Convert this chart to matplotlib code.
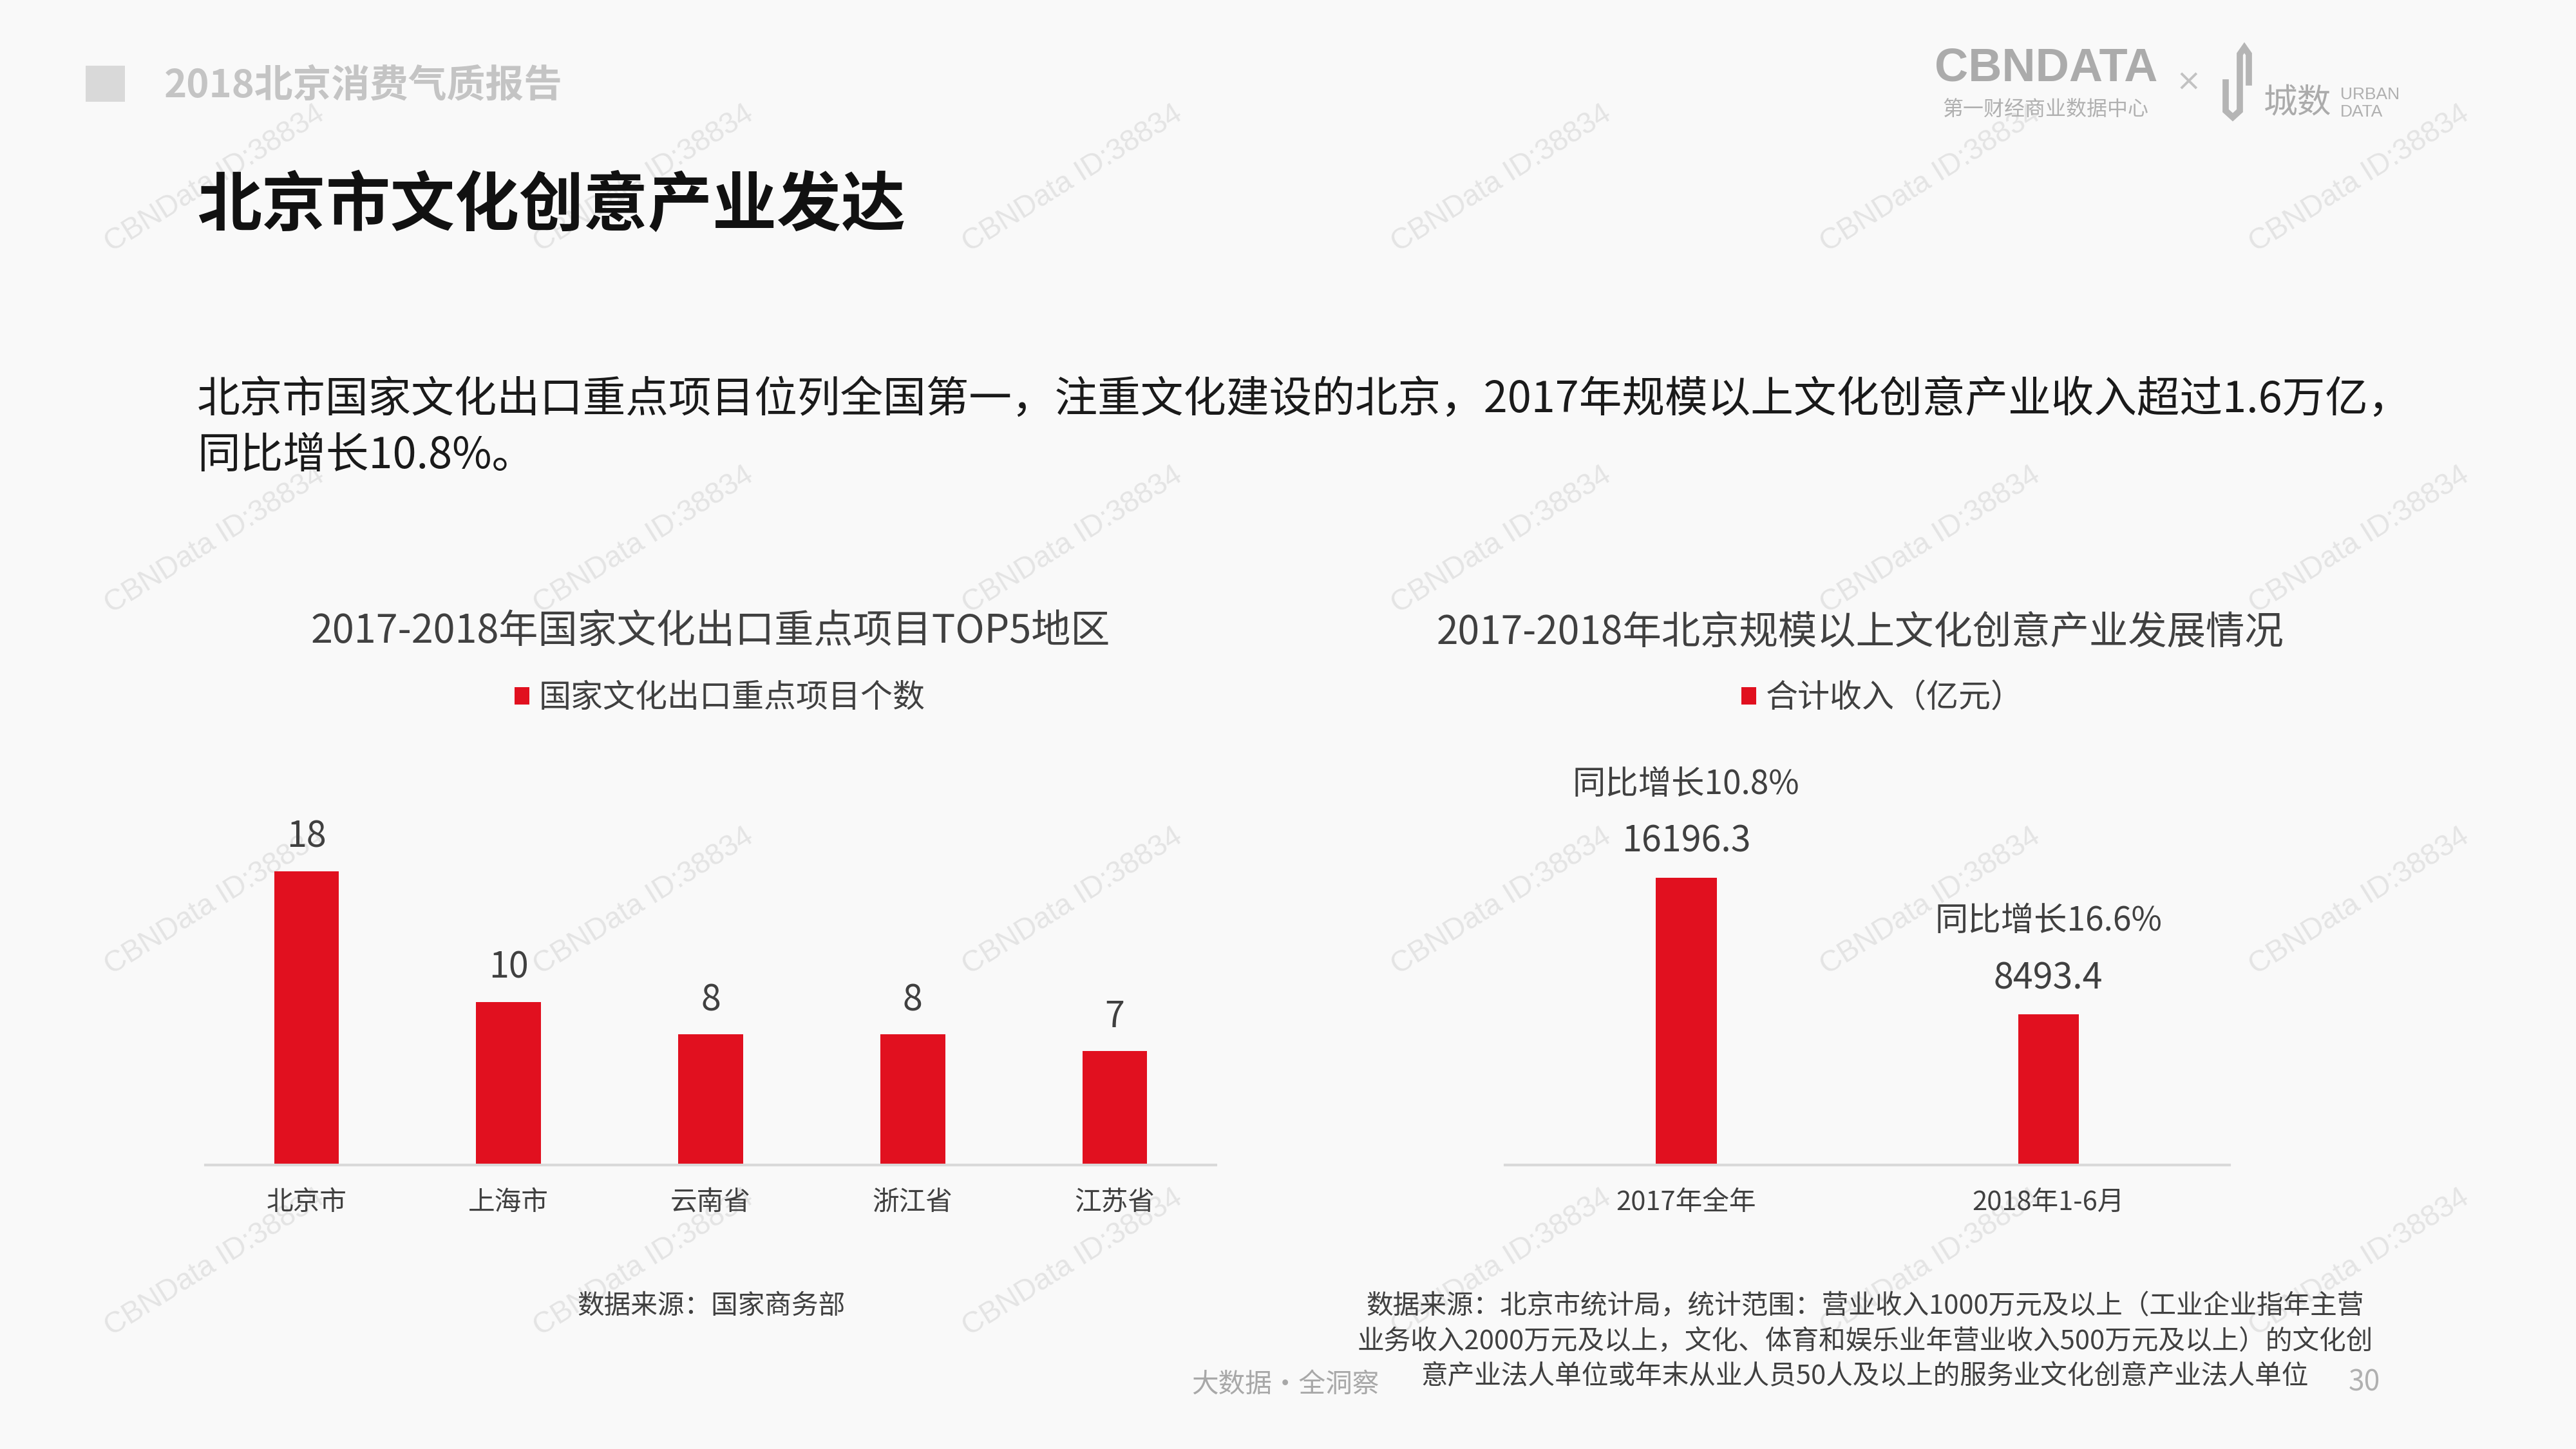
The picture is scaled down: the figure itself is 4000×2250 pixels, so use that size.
import matplotlib
matplotlib.use("Agg")
import matplotlib.pyplot as plt
from matplotlib.patches import Patch, Rectangle
from matplotlib.lines import Line2D

plt.rcParams['font.family'] = ['Noto Sans CJK SC', 'DejaVu Sans']

# data
regions = ['北京市', '上海市', '云南省', '浙江省', '江苏省']
projects = [18, 10, 8, 8, 7]
periods = ['2017年全年', '2018年1-6月']
income = [16196.3, 8493.4]
growth = ['同比增长10.8%', '同比增长16.6%']

RED = '#e1101f'
DARK = '#404040'
BG = '#f9f9f9'

W, H = 4000, 2250
fig = plt.figure(figsize=(40, 22.5), dpi=100, facecolor=BG)


def fx(x):
    return x / W


def fy(y):
    return 1 - y / H


# watermark grid
for i in range(6):
    for j in range(4):
        fig.text(fx(333 + i * 666), fy(278 + j * 561), 'CBNData ID:38834',
                 fontsize=33, color='#e4e4e4', rotation=32, ha='center', va='center',
                 family='Liberation Sans', zorder=-5)

# header
fig.patches.append(Rectangle((fx(133), fy(158)), fx(61), 56 / H, transform=fig.transFigure,
                             facecolor='#d9d9d9', edgecolor='none'))
fig.text(fx(255), fy(134), '2018北京消费气质报告', fontsize=43, fontweight='bold',
         color='#c4c4c4', va='center')

# logos
fig.text(fx(3177), fy(107), 'CBNDATA', fontsize=52, fontweight='bold', color='#ababab',
         ha='center', va='center', family='Liberation Sans')
fig.text(fx(3177), fy(171), '第一财经商业数据中心', fontsize=23, color='#b0b0b0',
         ha='center', va='center')
fig.text(fx(3398), fy(128), '×', fontsize=34, color='#c2c2c2', ha='center', va='center',
         family='DejaVu Sans')
ux = [3456, 3456, 3467, 3478, 3478, 3485, 3492, 3492]
uy = [128, 172, 182, 172, 84, 74, 84, 128]
fig.lines.append(Line2D([fx(v) for v in ux], [fy(v) for v in uy], transform=fig.transFigure,
                        color='#b5b5b5', lw=7, solid_joinstyle='miter'))
fig.text(fx(3515), fy(160), '城数', fontsize=38, color='#ababab', va='center')
fig.text(fx(3634), fy(147), 'URBAN', fontsize=19, color='#b0b0b0', va='center',
         family='Liberation Sans')
fig.text(fx(3634), fy(174), 'DATA', fontsize=19, color='#b0b0b0', va='center',
         family='Liberation Sans')

# titles
fig.text(fx(306), fy(320), '北京市文化创意产业发达', fontsize=72, fontweight='bold',
         color='#111111', va='center')
fig.text(fx(306), fy(622),
         '北京市国家文化出口重点项目位列全国第一，注重文化建设的北京，2017年规模以上文化创意产业收入超过1.6万亿，',
         fontsize=48, color='#1a1a1a', va='center')
fig.text(fx(306), fy(708), '同比增长10.8%。', fontsize=48, color='#1a1a1a', va='center')

# left chart
ax1 = fig.add_axes([fx(319), fy(1809), (1888 - 319) / W, 507 / H])
ax1.set_facecolor('none')
ax1.bar(range(len(regions)), projects, width=0.32, color=RED, zorder=2)
ax1.set_xlim(-0.5, len(regions) - 0.5)
ax1.set_ylim(0, 20)
for i, v in enumerate(projects):
    ax1.annotate(str(v), (i, v), xytext=(0, 38), textcoords='offset points',
                 ha='center', va='center', fontsize=40, color=DARK)
ax1.set_xticks(range(len(regions)))
ax1.set_xticklabels(regions, fontsize=30, color=DARK)
ax1.text(0.5, 1.631, '2017-2018年国家文化出口重点项目TOP5地区', transform=ax1.transAxes,
         ha='center', va='center', fontsize=44, color=DARK)
ax1.legend(handles=[Patch(facecolor=RED, edgecolor='none')], labels=['国家文化出口重点项目个数'],
           loc='center', bbox_to_anchor=(0.509, 1.43), frameon=False, fontsize=36,
           handlelength=0.46, handleheight=0.46, handletextpad=0.3, labelcolor=DARK)

# right chart
ax2 = fig.add_axes([fx(2337), fy(1809), (3462 - 2337) / W, 507 / H])
ax2.set_facecolor('none')
ax2.bar(range(len(periods)), income, width=0.168, color=RED, zorder=2)
ax2.set_xlim(-0.5, len(periods) - 0.5)
ax2.set_ylim(0, 18400)
for i, v in enumerate(income):
    ax2.annotate(f'{v:.1f}', (i, v), xytext=(0, 40), textcoords='offset points',
                 ha='center', va='center', fontsize=40, color=DARK)
    ax2.annotate(growth[i], (i, v), xytext=(0, 104), textcoords='offset points',
                 ha='center', va='center', fontsize=37, color=DARK)
ax2.set_xticks(range(len(periods)))
ax2.set_xticklabels(periods, fontsize=30, color=DARK)
ax2.text(0.49, 1.631, '2017-2018年北京规模以上文化创意产业发展情况', transform=ax2.transAxes,
         ha='center', va='center', fontsize=43.5, color=DARK)
ax2.legend(handles=[Patch(facecolor=RED, edgecolor='none')], labels=['合计收入（亿元）'],
           loc='center', bbox_to_anchor=(0.521, 1.43), frameon=False, fontsize=36,
           handlelength=0.46, handleheight=0.46, handletextpad=0.3, labelcolor=DARK)

for ax in (ax1, ax2):
    for s in ('top', 'right', 'left'):
        ax.spines[s].set_visible(False)
    ax.spines['bottom'].set_color('#d9d9d9')
    ax.spines['bottom'].set_linewidth(3)
    ax.set_yticks([])
    ax.tick_params(axis='x', length=0, pad=27)

# sources and footer
fig.text(fx(1105), fy(2028), '数据来源：国家商务部', fontsize=30, color=DARK,
         ha='center', va='center')
notes = ['数据来源：北京市统计局，统计范围：营业收入1000万元及以上（工业企业指年主营',
         '业务收入2000万元及以上，文化、体育和娱乐业年营业收入500万元及以上）的文化创',
         '意产业法人单位或年末从业人员50人及以上的服务业文化创意产业法人单位']
for k, line in enumerate(notes):
    fig.text(fx(2896), fy(2028 + k * 55), line, fontsize=30, color=DARK,
             ha='center', va='center')
fig.text(fx(1996), fy(2150), '大数据·全洞察', fontsize=30, color='#a8a8a8',
         ha='center', va='center')
fig.text(fx(3671), fy(2146), '30', fontsize=32, color='#b0b0b0', ha='center', va='center')

fig.savefig('out.png', dpi=100, facecolor=BG)
